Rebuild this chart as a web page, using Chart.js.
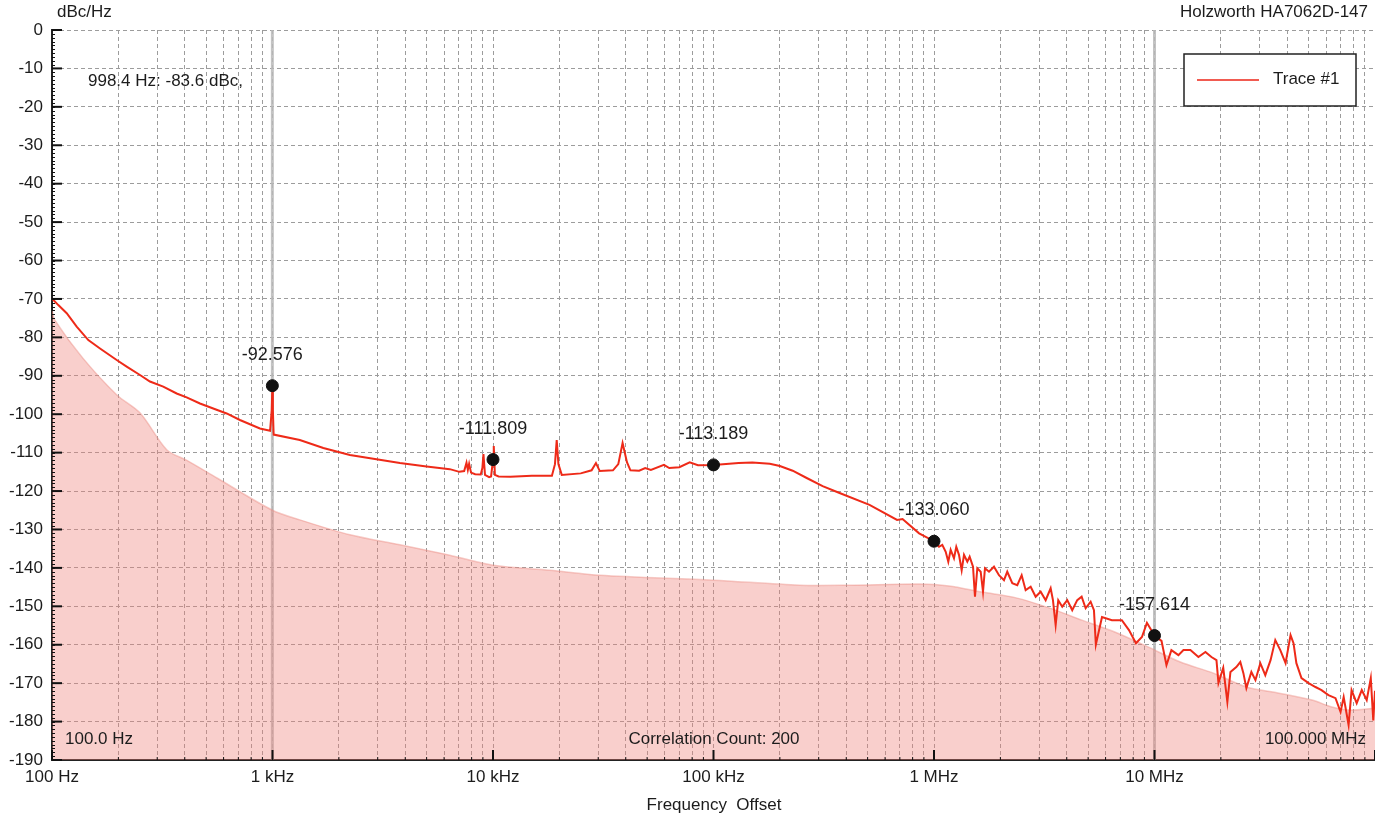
<!DOCTYPE html>
<html><head><meta charset="utf-8">
<script src="https://cdn.jsdelivr.net/npm/chart.js@4.4.0/dist/chart.umd.min.js"></script>
<style>html,body{margin:0;padding:0;background:#fff;}#wrap{width:1375px;height:817px;}</style>
</head><body><div id="wrap"><canvas id="c" width="1375" height="817"></canvas></div>
<script>
// ---- data (Hz, dBc/Hz) ----
const traceFreq = [100,106.8,116.6,129.4,146.1,165.1,196.5,218.1,250.6,278.1,319.5,367.6,407.9,468.9,538.6,619.4,711.6,876.9,975,992,998.4,1004,1012,1330,1700,2244,3784,5000,6368,7040,7400,7583,7690,7794,7950,8300,8800,8950,9050,9200,9600,9800,9950,10000,10080,10200,10600,12000,15000,18500,19100,19450,19800,20500,25000,28000,29300,30500,35000,37000,38700,40500,42000,46000,49000,52000,59600,63000,70000,78000,85000,100000,130000,150000,180000,200000,228600,264600,312600,373000,510000,680000,720000,856000,1000000,
1053600,1090400,1130000,1161000,1190000,1232000,1262000,1298000,1335000,1368000,1416000,1451000,1503000,1534000,1572000,1628000,1668000,1703000,1776000,1871000,1971000,2077000,2149000,2265000,2386000,2498000,2604000,2744000,2891000,3046000,3209000,3381000,3463000,3562000,3660000,3816000,4021000,4236000,4463000,4673000,4872000,5133000,5314000,
5420000,5780000,6410000,7110000,7660000,8240000,8770000,9240000,10000000,
10760000,11330000,11930000,12840000,13530000,14550000,15820000,17020000,18120000,19100000,19500000,20500000,21400000,22100000,23500000,24500000,25300000,26100000,27500000,28700000,30200000,31800000,33600000,35300000,37200000,39300000,41400000,42700000,44000000,46400000,50000000,53700000,57200000,61500000,66200000,69800000,72100000,75900000,78300000,82600000,87100000,91700000,95700000,98200000,100000000];
const traceDb = [-69.9,-71.6,-73.7,-77.2,-80.7,-82.9,-85.9,-87.6,-89.8,-91.5,-92.8,-94.6,-95.6,-97.2,-98.5,-99.8,-101.5,-103.7,-104.3,-99,-92.576,-99,-105.3,-106.7,-108.8,-110.6,-112.7,-113.6,-114.3,-115,-114.8,-112.6,-114.5,-112.9,-115.2,-115.6,-115.7,-114,-110.4,-115.8,-116.4,-116.2,-113,-111.809,-108.3,-115.8,-116.2,-116.3,-116,-116,-113,-106.7,-113,-115.8,-115.4,-114.6,-112.7,-114.8,-114.6,-113,-107.5,-112.5,-114.6,-114.7,-114,-114.5,-113.2,-114,-113.8,-112.5,-113.3,-113.189,-112.7,-112.6,-112.9,-113.5,-114.7,-116.6,-118.7,-120.5,-123.6,-127.5,-127.3,-131,-133.06,
-134.5,-134.0,-135.8,-138.4,-135.3,-137.5,-134.5,-136.6,-140.6,-136.6,-138.4,-137.1,-139.7,-147.5,-140.1,-141.0,-146.2,-140.1,-141.0,-139.7,-141.9,-143.2,-141.0,-144.0,-144.5,-141.9,-145.8,-144.9,-147.5,-146.2,-148.4,-145.3,-148.4,-154.9,-148.4,-150.1,-148.4,-151.0,-148.4,-147.5,-150.5,-148.8,-151.0,
-160,-152.8,-153.6,-153.6,-156.2,-159.6,-158,-154.3,-157.614,
-159,-165.3,-161.4,-162.7,-161.4,-161.4,-163.2,-161.9,-163.2,-164,-170,-166,-174.9,-167.1,-165.8,-164.5,-167.4,-171.3,-167.1,-169.2,-164.8,-167.9,-164,-158.8,-161.4,-164.8,-157.5,-159.6,-164.8,-168.7,-170,-171,-171.8,-173.1,-173.9,-177.5,-173.6,-180.9,-171.8,-175.2,-171.8,-174.4,-168.7,-179.7,-172];

const floorFreq = [100,103,138,197,251,332,409,560,1000,1330,2244,3784,6368,10000,18100,30500,100000,246000,414000,861000,1170000,1652000,2355000,3321000,4688000,6600000,9300000,13100000,18500000,26100000,36700000,51800000,63700000,75900000,100000000];
const floorDb = [-73,-75.5,-85.4,-95,-99.7,-109.3,-112,-116.6,-125,-127.5,-131.4,-134,-136.7,-139.3,-140.6,-141.9,-143.2,-144.5,-144.5,-144.2,-144.7,-146.3,-147.8,-150.4,-153.6,-156.7,-160.5,-164.5,-167.4,-171,-172.6,-174.4,-176.2,-177,-176.5];

const markerFreq = [998.4, 10000, 100000, 1000000, 10000000];
const markerDb = [-92.576, -111.809, -113.189, -133.060, -157.614];
const markerLineFreq = [998.4, 10000000];

const xDecades = [100,1000,10000,100000,1000000,10000000,100000000];
const xMultipliers = [1,2,3,4,5,6,7,8,9];
const xTickLabels = {100:'100 Hz',1000:'1 kHz',10000:'10 kHz',100000:'100 kHz',1000000:'1 MHz',10000000:'10 MHz'};
const yTickValues = [0,-10,-20,-30,-40,-50,-60,-70,-80,-90,-100,-110,-120,-130,-140,-150,-160,-170,-180,-190];

const xTickValues = [];
xDecades.forEach(d => xMultipliers.forEach(m => { const v = d*m; if (v <= 1e8) xTickValues.push(v); }));

const toXY = (fs, ds) => fs.map((f,i) => ({x:f, y:ds[i]}));
const FONT = '"Liberation Sans", Arial, Helvetica, sans-serif';
const TXT = '#1c1c1c';

const overlay = {
  id:'overlay',
  beforeDatasetsDraw(chart){
    const {ctx, chartArea:a, scales:{x}} = chart;
    ctx.save();
    ctx.strokeStyle = 'rgba(185,185,185,0.85)';
    ctx.lineWidth = 3;
    markerLineFreq.forEach(f => {
      const px = x.getPixelForValue(f);
      ctx.beginPath(); ctx.moveTo(px, a.top); ctx.lineTo(px, a.bottom); ctx.stroke();
    });
    ctx.restore();
  },
  afterDatasetsDraw(chart){
    const {ctx, chartArea:a, scales:{x,y}} = chart;
    ctx.save();
    ctx.strokeStyle = '#111';
    ctx.lineWidth = 2;
    yTickValues.forEach(v => {
      const py = y.getPixelForValue(v);
      ctx.beginPath(); ctx.moveTo(a.left, py); ctx.lineTo(a.left+10, py); ctx.stroke();
    });
    ctx.lineWidth = 1;
    for (let v = 0; v >= -190; v -= 1) {
      const py = Math.round(y.getPixelForValue(v)) + 0.5;
      ctx.beginPath(); ctx.moveTo(a.left, py); ctx.lineTo(a.left+3, py); ctx.stroke();
    }
    xTickValues.forEach(v => {
      const px = x.getPixelForValue(v);
      const isDec = xDecades.includes(v);
      ctx.lineWidth = isDec ? 2 : 1;
      ctx.beginPath(); ctx.moveTo(px, a.bottom); ctx.lineTo(px, a.bottom - (isDec ? 10 : 3)); ctx.stroke();
    });
    ctx.fillStyle = TXT;
    ctx.font = '18px ' + FONT;
    ctx.textAlign = 'center'; ctx.textBaseline = 'middle';
    markerFreq.forEach((f,i) => {
      ctx.fillText(markerDb[i].toFixed(3), x.getPixelForValue(f), y.getPixelForValue(markerDb[i]) - 31);
    });
    ctx.font = '17px ' + FONT;
    ctx.textAlign = 'left';
    ctx.fillText('dBc/Hz', 57, 12);
    ctx.fillText('998.4 Hz: -83.6 dBc,', 88, 81);
    ctx.fillText('100.0 Hz', 65, 739);
    ctx.textAlign = 'right';
    ctx.fillText('Holzworth HA7062D-147', 1368, 12);
    ctx.fillText('100.000 MHz', 1366, 739);
    ctx.textAlign = 'center';
    ctx.fillText('Correlation Count: 200', 714, 739);
    ctx.fillText('Frequency  Offset', 714, 805);
    // legend
    ctx.fillStyle = '#fff';
    ctx.fillRect(1184, 54, 172, 52);
    ctx.strokeStyle = '#222'; ctx.lineWidth = 1.5;
    ctx.strokeRect(1184, 54, 172, 52);
    ctx.strokeStyle = '#ec2417'; ctx.lineWidth = 1.5;
    ctx.beginPath(); ctx.moveTo(1197, 80); ctx.lineTo(1259, 80); ctx.stroke();
    ctx.fillStyle = TXT; ctx.font = '17px ' + FONT; ctx.textAlign = 'left';
    ctx.fillText('Trace #1', 1273, 79);
    ctx.restore();
  }
};

new Chart(document.getElementById('c'), {
  type:'line',
  data:{datasets:[
    {label:'markers', data:toXY(markerFreq, markerDb), showLine:false, pointRadius:6, pointBackgroundColor:'#111', pointBorderColor:'#111', order:0},
    {label:'Trace #1', data:toXY(traceFreq, traceDb), borderColor:'#ee2a18', borderWidth:2, pointRadius:0, tension:0, fill:false, order:1},
    {label:'floor', data:toXY(floorFreq, floorDb), borderColor:'rgba(235,140,130,0.45)', borderWidth:1.5, backgroundColor:'rgba(240,130,120,0.38)', fill:'start', pointRadius:0, tension:0.3, order:2}
  ]},
  options:{
    responsive:false, animation:false,
    layout:{autoPadding:false, padding:{top:30,right:0,left:0,bottom:0}},
    plugins:{legend:{display:false}, tooltip:{enabled:false}},
    scales:{
      x:{type:'logarithmic', min:100, max:1e8, position:'bottom',
        afterFit(s){ s.height = 57; s.paddingRight = 0; s.paddingLeft = 0; },
        afterBuildTicks(s){ s.ticks = xTickValues.map(v => ({value:v})); },
        ticks:{autoSkip:false, maxRotation:0, padding:7, color:TXT, font:{family:FONT, size:17}, callback:(v) => xTickLabels[v] || ''},
        grid:{color:'#9c9c9c', lineWidth:1, drawTicks:false},
        border:{display:true, color:'#222', width:2, dash:[4,3]}
      },
      y:{min:-190, max:0,
        afterFit(s){ s.width = 52; s.paddingTop = 0; s.paddingBottom = 0; },
        afterBuildTicks(s){ s.ticks = yTickValues.map(v => ({value:v})); },
        ticks:{padding:9, color:TXT, font:{family:FONT, size:17}},
        grid:{color:'#9c9c9c', lineWidth:1, drawTicks:false},
        border:{display:true, color:'#222', width:2, dash:[4,3]}
      }
    }
  },
  plugins:[overlay]
});
</script></body></html>
